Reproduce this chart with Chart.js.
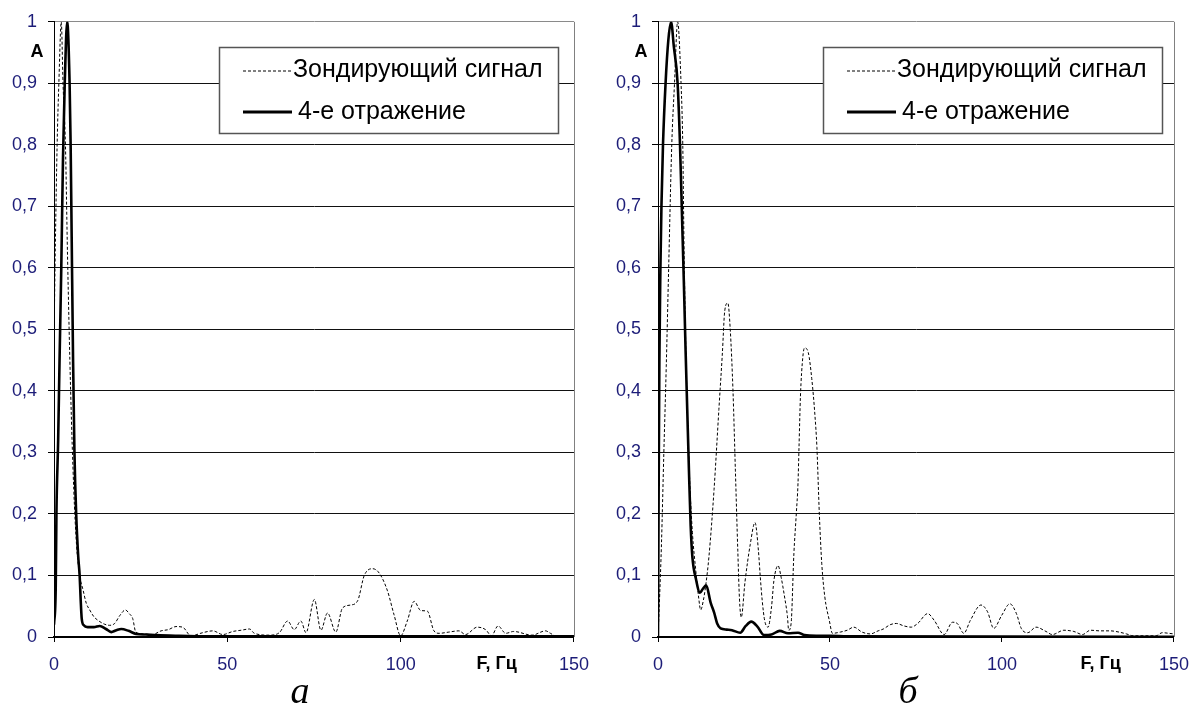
<!DOCTYPE html>
<html><head><meta charset="utf-8">
<script src="https://cdn.jsdelivr.net/npm/chart.js@4.4.1/dist/chart.umd.min.js"></script>
<style>
html,body{margin:0;padding:0;background:#fff;}
#wrap{position:relative;width:1201px;height:706px;overflow:hidden;background:#fff;}
canvas{position:absolute;top:0;}
</style></head><body>
<div id="wrap">
<canvas id="c1" width="601" height="706" style="left:0px"></canvas>
<canvas id="c2" width="597" height="706" style="left:604px"></canvas>
</div>
<script>
const seriesNames = ['Зондирующий сигнал', '4-е отражение'];
const panelLabels = ['а', 'б'];
const yAxisTitle = 'A';
const xAxisTitle = 'F, Гц';
const xTickValues = [0, 50, 100, 150];
const yTickLabels = ['0', '0,1', '0,2', '0,3', '0,4', '0,5', '0,6', '0,7', '0,8', '0,9', '1'];

// Panel а — probe signal (dashed)
const aProbeF = [0, 0.4, 0.9, 1.4, 2.1, 2.6, 3.3, 3.9, 4.8, 5.7, 6.5, 7.4, 8.4, 9.3, 10.3, 11.5, 12.7, 14.5, 16, 17.5, 19, 20.6, 21.7, 22.7, 23.6, 26, 28.4, 30.9, 33, 35.2, 37.1, 39.5, 42.9, 45.8, 48.7, 51.6, 54, 56.4, 57.8, 62.1, 65, 67.4, 69.3, 71.2, 72.7, 75.1, 77, 78.9, 81.3, 83.2, 85.6, 87.6, 89.5, 91.9, 93.8, 96.2, 98.1, 100, 101.9, 103.9, 105.8, 107.7, 109.6, 111.1, 113.9, 116.8, 118.7, 122.1, 124.5, 126.2, 128.1, 130.3, 132.6, 137.9, 141.8, 143.2, 145, 150];
const aProbeA = [0.48, 0.64, 0.8, 0.9, 1.0, 0.9, 0.8, 0.62, 0.4, 0.24, 0.15, 0.1, 0.076, 0.055, 0.044, 0.033, 0.027, 0.021, 0.019, 0.022, 0.035, 0.044, 0.038, 0.03, 0.008, 0.005, 0.004, 0.01, 0.012, 0.017, 0.016, 0.002, 0.007, 0.01, 0.004, 0.009, 0.011, 0.013, 0.006, 0.003, 0.007, 0.026, 0.012, 0.026, 0.007, 0.061, 0.011, 0.039, 0.008, 0.047, 0.052, 0.059, 0.1, 0.111, 0.104, 0.075, 0.036, 0.002, 0.026, 0.058, 0.043, 0.042, 0.01, 0.006, 0.008, 0.01, 0.004, 0.016, 0.012, 0.002, 0.018, 0.006, 0.009, 0.003, 0.01, 0.006, 0.001, 0];
// Panel а — 4th reflection (solid)
const aEchoF = [0, 0.5, 0.7, 1.2, 1.6, 2.1, 2.6, 3.1, 3.8, 4.5, 4.8, 5.1, 5.5, 5.9, 6.4, 7.0, 7.4, 7.7, 8.0, 8.6, 9.7, 11.5, 13.2, 15, 16.5, 18, 19.4, 21.5, 23.7, 26.5, 29.5, 35, 45, 150];
const aEchoA = [0.02, 0.08, 0.2, 0.32, 0.45, 0.6, 0.78, 0.9, 1.0, 0.9, 0.8, 0.65, 0.45, 0.3, 0.2, 0.13, 0.1, 0.06, 0.03, 0.019, 0.016, 0.016, 0.018, 0.013, 0.008, 0.011, 0.013, 0.01, 0.005, 0.004, 0.003, 0.002, 0.001, 0.001];

// Panel б — probe signal (dashed)
const bProbeF = [0, 0.5, 1.0, 1.7, 2.4, 3.1, 4.0, 4.8, 5.7, 6.7, 7.2, 7.6, 8.2, 9.1, 10.0, 11.0, 11.8, 12.4, 13.2, 13.9, 14.8, 16.3, 17.7, 18.7, 19.4, 20.3, 21.0, 21.8, 22.5, 23.2, 23.7, 24.2, 25.3, 26.8, 28.2, 29.2, 29.7, 30.3, 31.0, 32.0, 33.0, 33.7, 34.9, 35.8, 36.8, 37.6, 38.0, 38.7, 39.5, 40.2, 40.7, 41.0, 41.4, 42.1, 42.6, 43.7, 44.7, 45.6, 46.2, 46.9, 47.6, 48.5, 49.8, 50.7, 53, 55, 56.9, 59.3, 61.7, 64, 65.5, 67.5, 69.3, 71.5, 73.6, 75.5, 78.4, 80.3, 83.2, 85.6, 87, 88.9, 90.8, 93.9, 95.8, 97.6, 99.9, 102.3, 104.2, 105.6, 107.5, 109.9, 112.8, 114.6, 118, 120.9, 123.4, 125.7, 128.5, 131.5, 134, 136.2, 138.1, 144.8, 146.6, 148.5, 150];
const bProbeA = [0, 0.07, 0.15, 0.3, 0.44, 0.6, 0.8, 0.9, 1.0, 0.9, 0.8, 0.62, 0.44, 0.27, 0.17, 0.107, 0.065, 0.044, 0.06, 0.085, 0.13, 0.24, 0.37, 0.46, 0.53, 0.543, 0.5, 0.4, 0.27, 0.14, 0.06, 0.032, 0.09, 0.15, 0.186, 0.14, 0.1, 0.059, 0.027, 0.016, 0.049, 0.092, 0.116, 0.097, 0.065, 0.035, 0.011, 0.022, 0.135, 0.2, 0.25, 0.31, 0.39, 0.455, 0.47, 0.462, 0.42, 0.362, 0.308, 0.2, 0.12, 0.065, 0.027, 0.006, 0.008, 0.011, 0.016, 0.008, 0.005, 0.01, 0.013, 0.02, 0.022, 0.018, 0.016, 0.022, 0.038, 0.027, 0.004, 0.024, 0.022, 0.006, 0.027, 0.052, 0.041, 0.014, 0.035, 0.054, 0.038, 0.014, 0.007, 0.016, 0.009, 0.004, 0.011, 0.009, 0.004, 0.011, 0.01, 0.01, 0.008, 0.005, 0.002, 0.002, 0.007, 0.006, 0.005];
// Panel б — 4th reflection (solid)
const bEchoF = [0, 0.2, 0.4, 0.7, 1.0, 1.45, 2.2, 3.0, 3.8, 4.6, 5.7, 6.4, 7.0, 7.5, 8.0, 8.5, 9.0, 9.5, 10.0, 11.0, 12.2, 13.0, 14.0, 15.3, 16.3, 17.2, 18.2, 20, 21.5, 23.9, 25.5, 27.1, 28.9, 30.8, 33, 35.4, 37.8, 40.7, 42.6, 46, 50, 55, 150];
const bEchoA = [0, 0.25, 0.45, 0.6, 0.7, 0.8, 0.9, 0.97, 1.0, 0.96, 0.9, 0.8, 0.68, 0.58, 0.47, 0.37, 0.27, 0.18, 0.13, 0.095, 0.072, 0.078, 0.084, 0.056, 0.04, 0.022, 0.014, 0.012, 0.011, 0.007, 0.018, 0.025, 0.017, 0.003, 0.004, 0.01, 0.006, 0.007, 0.003, 0.002, 0.002, 0.001, 0.0005];

function pts(fs, as) { return fs.map((f, i) => ({ x: f, y: as[i] })); }

const FONT = "'Liberation Sans', Arial, sans-serif";
const TICK_COLOR = '#1c1c78';

const decor = {
  id: 'decor',
  beforeDatasetsDraw(chart) {
    const { ctx, chartArea: a } = chart;
    ctx.save();
    ctx.strokeStyle = '#808080';
    ctx.lineWidth = 1;
    const xr = Math.round(a.right) + 0.5;
    ctx.beginPath(); ctx.moveTo(xr, a.top); ctx.lineTo(xr, a.bottom); ctx.stroke();
    ctx.restore();
  },
  afterDraw(chart, args, o) {
    const { ctx, chartArea: a } = chart;
    ctx.save();
    // axis titles
    ctx.fillStyle = '#000';
    ctx.font = 'bold 18px ' + FONT;
    ctx.textAlign = 'center';
    ctx.textBaseline = 'alphabetic';
    ctx.fillText(yAxisTitle, a.left - 17, 57);
    ctx.textAlign = 'left';
    ctx.fillText(xAxisTitle, a.left + 422.5, 669);
    // legend
    const lx = a.left + 165, ly = 47, lw = 339, lh = 86;
    ctx.fillStyle = '#fff';
    ctx.fillRect(lx, ly, lw, lh);
    ctx.strokeStyle = '#555';
    ctx.lineWidth = 1.5;
    ctx.strokeRect(lx + 0.5, ly + 0.5, lw, lh);
    ctx.strokeStyle = '#000';
    ctx.lineWidth = 1;
    ctx.setLineDash([3, 2]);
    ctx.beginPath(); ctx.moveTo(lx + 24, ly + 24); ctx.lineTo(lx + 72, ly + 24); ctx.stroke();
    ctx.setLineDash([]);
    ctx.lineWidth = 3;
    ctx.beginPath(); ctx.moveTo(lx + 24, ly + 65); ctx.lineTo(lx + 73, ly + 65); ctx.stroke();
    ctx.fillStyle = '#000';
    ctx.font = '25px ' + FONT;
    ctx.textAlign = 'left';
    ctx.textBaseline = 'alphabetic';
    ctx.fillText(seriesNames[0], lx + 74, ly + 30);
    ctx.fillText(seriesNames[1], lx + 79, ly + 72);
    // panel label
    ctx.font = 'italic 38px "Liberation Serif", "Times New Roman", serif';
    ctx.textAlign = 'center';
    ctx.fillText(o.label, a.left + o.labelDx, 703);
    ctx.restore();
  }
};

function makeChart(id, probe, echo, label, labelDx, padRight) {
  return new Chart(document.getElementById(id), {
    type: 'line',
    data: {
      datasets: [
        { label: seriesNames[0], data: probe, borderColor: '#000', borderWidth: 1, borderDash: [3, 2],
          pointRadius: 0, cubicInterpolationMode: 'monotone', fill: false },
        { label: seriesNames[1], data: echo, borderColor: '#000', borderWidth: 2.6,
          pointRadius: 0, cubicInterpolationMode: 'monotone', fill: false }
      ]
    },
    options: {
      responsive: false,
      devicePixelRatio: 1,
      animation: false,
      events: [],
      layout: { padding: { top: 19, right: padRight, left: 0, bottom: 0 } },
      plugins: { legend: { display: false }, tooltip: { enabled: false }, title: { display: false },
        decor: { label: label, labelDx: labelDx } },
      scales: {
        x: {
          type: 'linear', min: 0, max: 150,
          afterFit(s) { s.height = 69; },
          afterBuildTicks(s) { s.ticks = xTickValues.map(v => ({ value: v })); },
          grid: { drawOnChartArea: false, drawTicks: true, tickLength: 5, tickColor: '#000', lineWidth: 1 },
          border: { display: true, color: '#000', width: 2 },
          ticks: { color: TICK_COLOR, font: { family: FONT, size: 18 }, padding: 12, maxRotation: 0, autoSkip: false }
        },
        y: {
          type: 'linear', min: 0, max: 1,
          afterFit(s) { s.width = 54; },
          afterBuildTicks(s) { s.ticks = yTickLabels.map((t, i) => ({ value: i / 10 })); },
          grid: { color: (c) => (c.tick && c.tick.value === 1 ? '#8a8a8a' : '#111'), lineWidth: 1,
                  drawTicks: true, tickLength: 6, tickColor: '#000' },
          border: { display: true, color: '#000', width: 1 },
          ticks: { color: TICK_COLOR, font: { family: FONT, size: 18 }, padding: 11, autoSkip: false,
                   callback: (v) => yTickLabels[Math.round(v * 10)] }
        }
      }
    },
    plugins: [decor]
  });
}

makeChart('c1', pts(aProbeF, aProbeA), pts(aEchoF, aEchoA), panelLabels[0], 246, 26);
makeChart('c2', pts(bProbeF, bProbeA), pts(bEchoF, bEchoA), panelLabels[1], 250, 20);
</script>
</body></html>
